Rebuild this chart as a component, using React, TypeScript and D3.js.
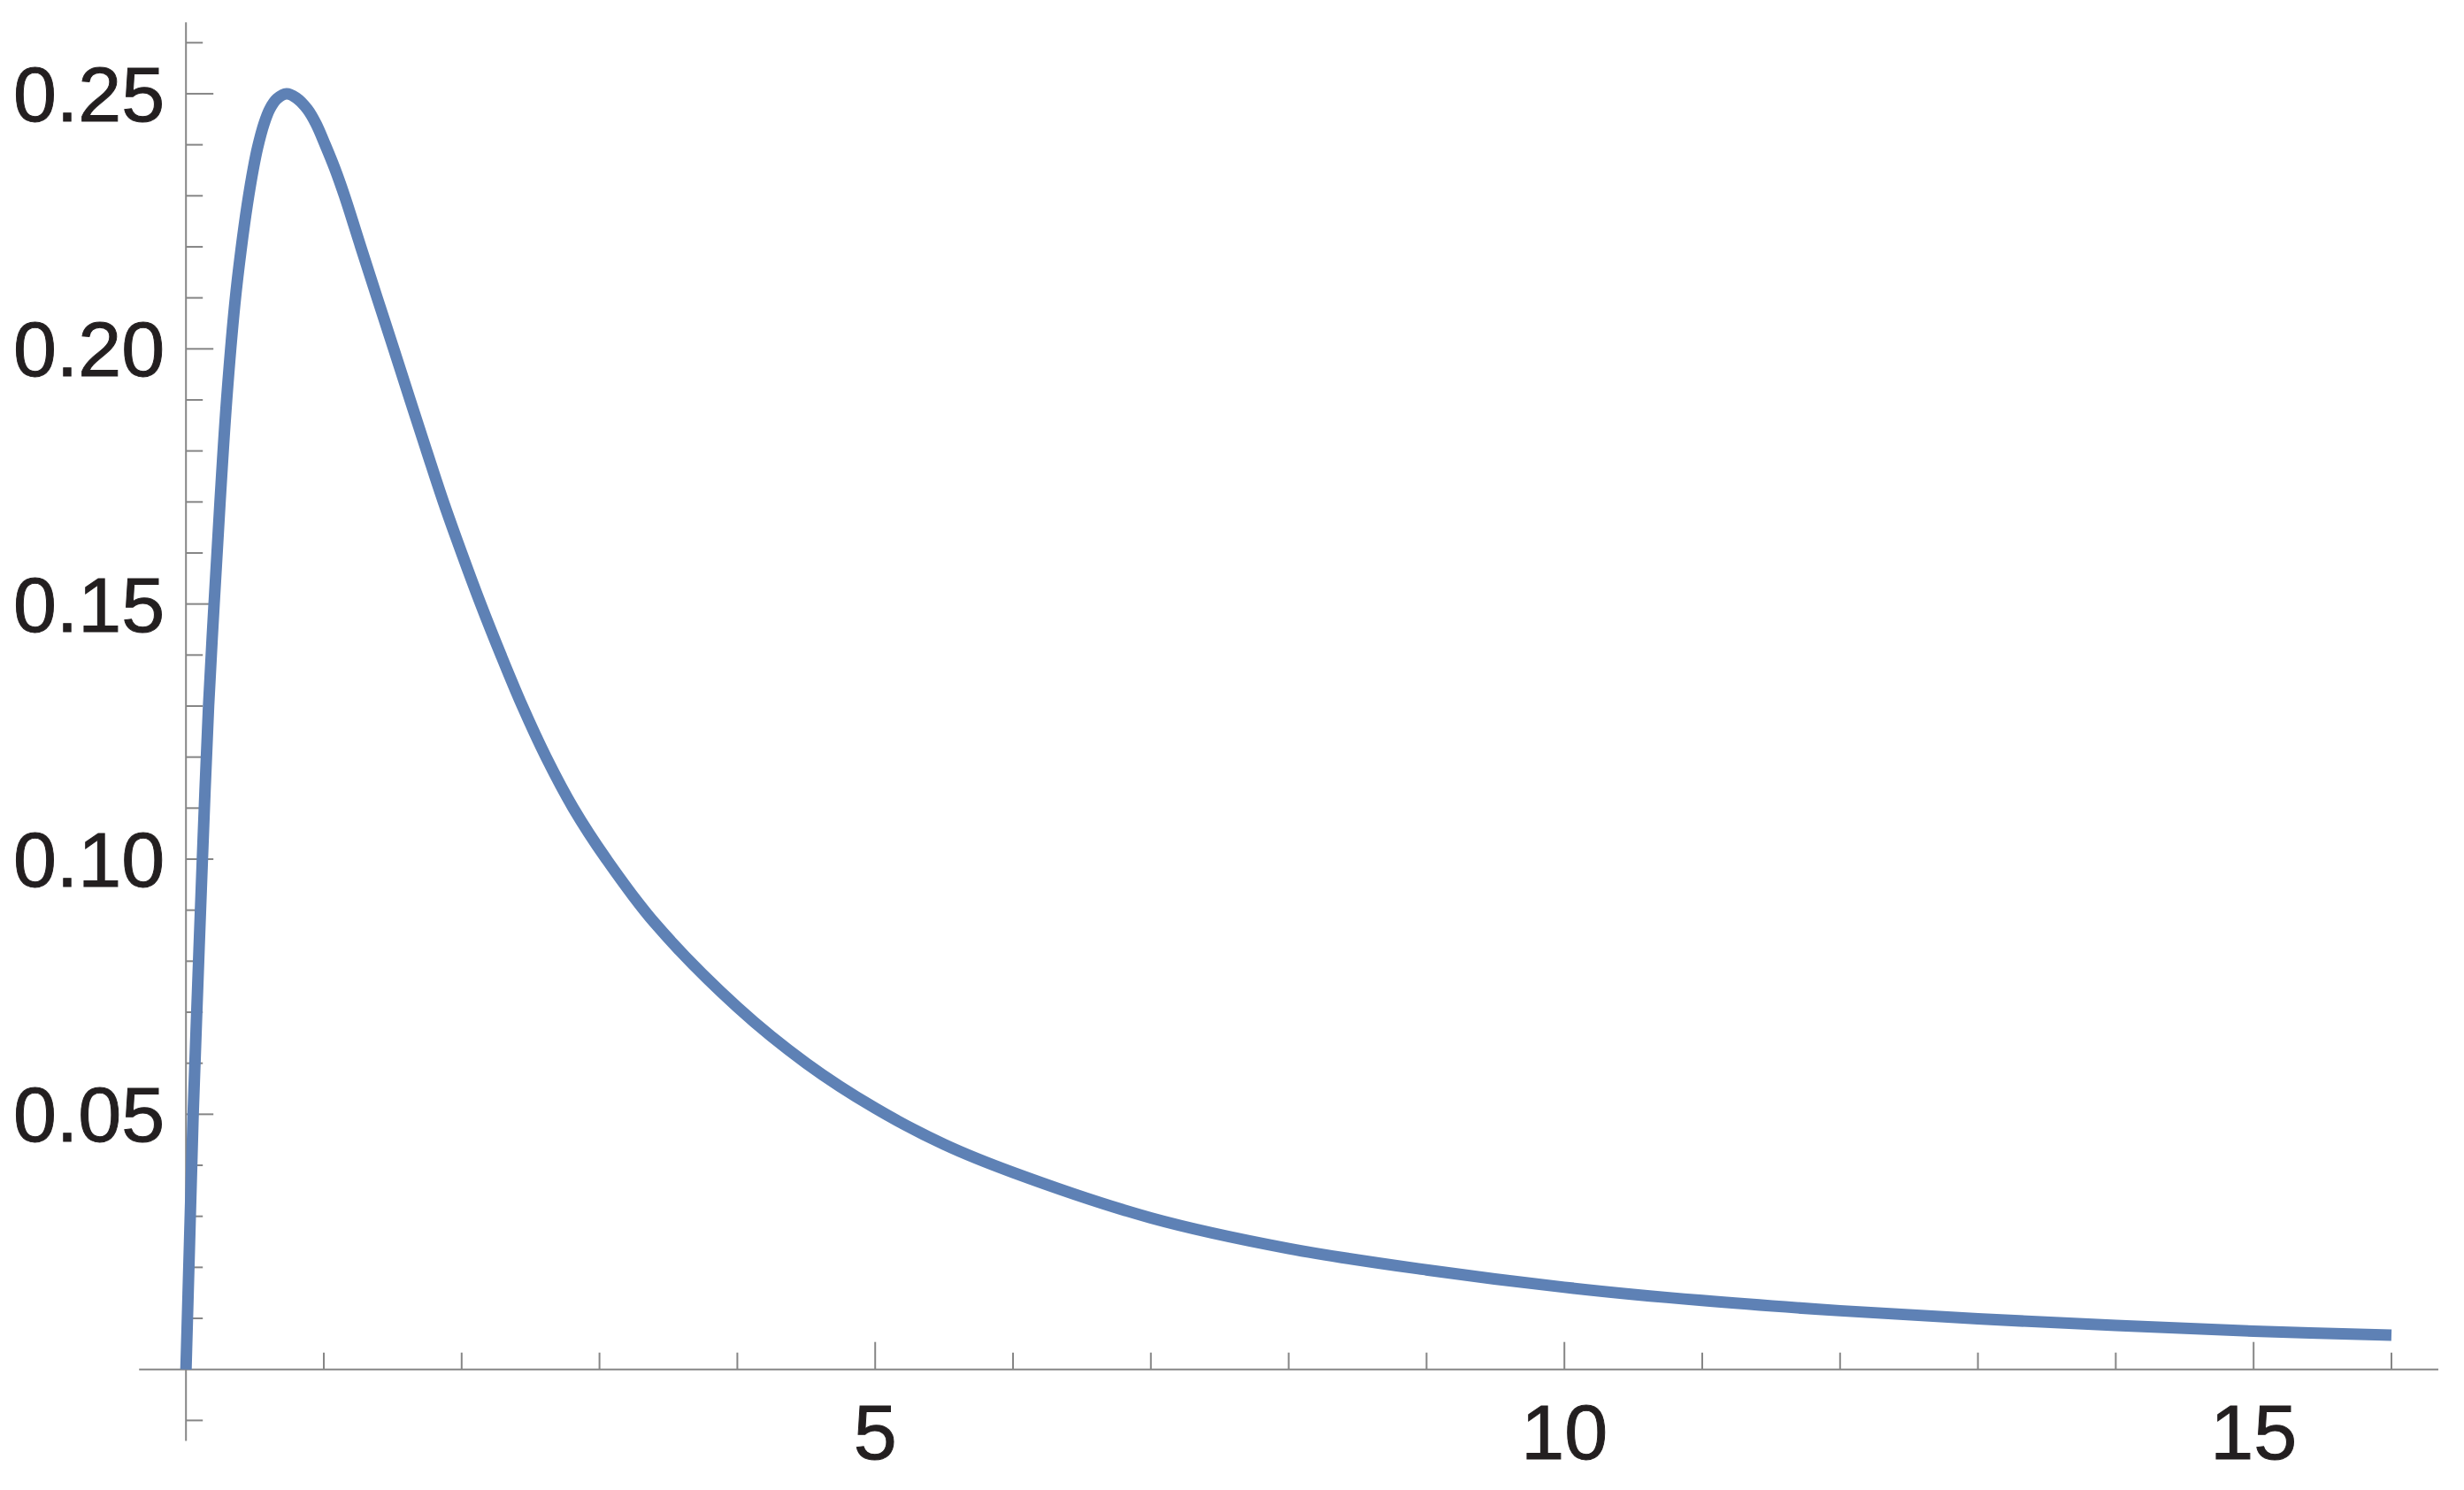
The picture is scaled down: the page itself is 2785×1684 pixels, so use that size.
import React from "react";
import * as d3 from "d3";

// Curve samples (x, y)
const xs: number[] = [
  0, 0.026, 0.052, 0.085, 0.119, 0.164, 0.204, 0.247, 0.295, 0.355, 0.4, 0.445, 0.489, 0.52, 0.566,
  0.608, 0.66, 0.73,
  0.8, 0.88, 0.944, 1.01, 1.079, 1.15, 1.268, 1.387, 1.507, 1.626, 1.746, 1.868, 2.0, 2.138, 2.285,
  2.44, 2.612, 2.81, 3.05, 3.4, 4.0, 4.5, 5.0, 5.5, 6.0, 7, 8, 9, 10, 11, 12, 13, 14, 15, 16,
];
const ys: number[] = [
  0, 0.025, 0.05, 0.075, 0.1, 0.13, 0.15, 0.17, 0.19, 0.209, 0.2195, 0.2283, 0.2354, 0.2395, 0.2441,
  0.247, 0.249, 0.25,
  0.2492, 0.247, 0.2441, 0.24, 0.2354, 0.23, 0.22, 0.21, 0.2, 0.19, 0.18, 0.17, 0.16, 0.15, 0.14,
  0.13, 0.12, 0.11, 0.1, 0.0875, 0.071, 0.06, 0.0512, 0.0441, 0.0386, 0.0297, 0.0237, 0.0195, 0.0161,
  0.0135, 0.0115, 0.0099, 0.0086, 0.0075, 0.0067,
];

const xMajorTicks: number[] = [5, 10, 15];
const xMinorTicks: number[] = [1, 2, 3, 4, 6, 7, 8, 9, 11, 12, 13, 14, 16];
const yMajorTicks: number[] = [0.05, 0.1, 0.15, 0.2, 0.25];
const yMinorTicks: number[] = [
  -0.01, 0.01, 0.02, 0.03, 0.04, 0.06, 0.07, 0.08, 0.09, 0.11, 0.12, 0.13, 0.14, 0.16, 0.17, 0.18,
  0.19, 0.21, 0.22, 0.23, 0.24, 0.26,
];
const yLabels: string[] = ["0.05", "0.10", "0.15", "0.20", "0.25"];
const xLabels: string[] = ["5", "10", "15"];

const W = 2785;
const H = 1684;
const AXIS = "#868686";
const LINE = "#5E81B5";
const TEXT = "#231f20";
const FONT = "'Liberation Sans', Arial, sans-serif";

export default function App() {
  const x = d3.scaleLinear().domain([0, 16]).range([210.2, 2703]);
  const y = d3.scaleLinear().domain([0, 0.25]).range([1547.7, 105.95]);

  const pts: [number, number][] = xs.map((v, i) => [v, ys[i]]);
  const line = d3
    .line<[number, number]>()
    .x((d) => x(d[0]))
    .y((d) => y(d[1]))
    .curve(d3.curveCatmullRom.alpha(0.5));

  const x0 = x(0);
  const y0 = y(0);
  const major = 31;
  const minor = 19;

  return (
    <svg
      width={W}
      height={H}
      viewBox={`0 0 ${W} ${H}`}
      style={{ position: "fixed", left: 0, top: 0, background: "#fff" }}
    >
      <rect x={0} y={0} width={W} height={H} fill="#fff" />
      {/* axes */}
      <line x1={x(-0.34)} x2={x(16.34)} y1={y0} y2={y0} stroke={AXIS} strokeWidth={2} />
      <line x1={x0} x2={x0} y1={y(0.264)} y2={y(-0.014)} stroke={AXIS} strokeWidth={2} />
      {/* x ticks */}
      {xMajorTicks.map((t) => (
        <line key={"xM" + t} x1={x(t)} x2={x(t)} y1={y0} y2={y0 - major} stroke={AXIS} strokeWidth={2} />
      ))}
      {xMinorTicks.map((t) => (
        <line key={"xm" + t} x1={x(t)} x2={x(t)} y1={y0} y2={y0 - minor} stroke={AXIS} strokeWidth={2} />
      ))}
      {/* y ticks */}
      {yMajorTicks.map((t) => (
        <line key={"yM" + t} x1={x0} x2={x0 + major} y1={y(t)} y2={y(t)} stroke={AXIS} strokeWidth={2} />
      ))}
      {yMinorTicks.map((t) => (
        <line key={"ym" + t} x1={x0} x2={x0 + minor} y1={y(t)} y2={y(t)} stroke={AXIS} strokeWidth={2} />
      ))}
      {/* labels */}
      {yMajorTicks.map((t, i) => (
        <text
          key={"yl" + t}
          x={x0 - 24}
          y={y(t) + 31}
          textAnchor="end"
          fontFamily={FONT}
          fontSize={88}
          fill={TEXT}
          stroke={TEXT}
          strokeWidth={1}
        >
          {yLabels[i]}
        </text>
      ))}
      {xMajorTicks.map((t, i) => (
        <text
          key={"xl" + t}
          x={x(t)}
          y={1649}
          textAnchor="middle"
          fontFamily={FONT}
          fontSize={88}
          fill={TEXT}
          stroke={TEXT}
          strokeWidth={1}
        >
          {xLabels[i]}
        </text>
      ))}
      {/* curve */}
      <path d={line(pts) || ""} fill="none" stroke={LINE} strokeWidth={13} strokeLinejoin="round" />
    </svg>
  );
}
